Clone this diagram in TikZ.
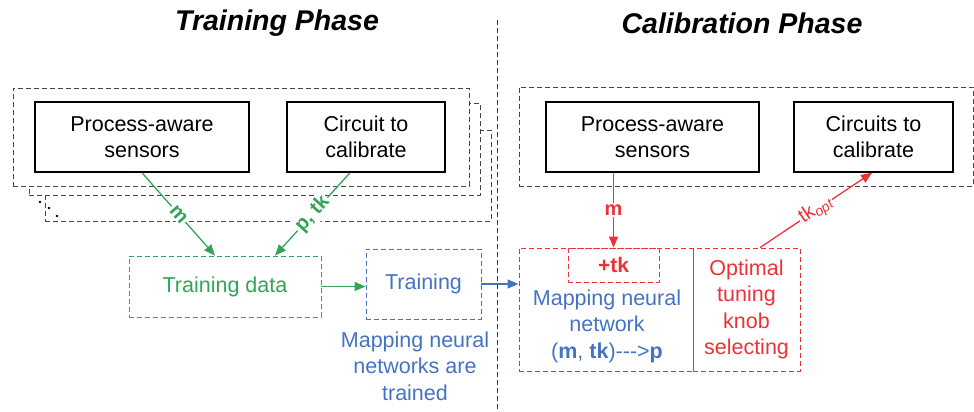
\documentclass[tikz,border=0pt]{standalone}
\usepackage{fontspec}
\setmainfont{Liberation Sans}
\usetikzlibrary{arrows.meta}
\definecolor{cgreen}{RGB}{51,164,87}
\definecolor{cblue}{RGB}{68,114,196}
\definecolor{cred}{RGB}{237,50,55}
\definecolor{cgray}{RGB}{70,70,70}
\begin{document}
\begin{tikzpicture}[x=1pt,y=-1pt,
  body/.style={font=\fontsize{21.5}{26.5}\selectfont, align=center, inner sep=0pt},
  solidbox/.style={body, draw=black, line width=1.5pt, fill=white},
  dbox/.style={dash pattern=on 5pt off 3pt, line width=0.9pt, inner sep=0pt},
  groupbox/.style={dbox, draw=cgray, fill=white},
  title/.style={font=\fontsize{28.5}{32}\selectfont\bfseries\itshape, inner sep=0pt},
  arr/.style={line width=1.3pt, -{Triangle[length=11pt,width=9pt]}},
  lbl/.style={font=\fontsize{20}{22}\selectfont\bfseries, fill=white, inner sep=1.5pt, sloped}
]
\useasboundingbox (0,0) rectangle (974,412);

% phase titles and divider
\node[title] (t1) at (277,23) {Training Phase};
\node[title] (t2) at (742,23) {Calibration Phase};
\coordinate (divtop) at (497,20);
\coordinate (divbot) at (497,412);
\draw[dbox, draw=black!80] (divtop) -- (divbot);

% stacked copies of the training set-up
\node[groupbox, minimum width=446pt, minimum height=91pt] (g3) at (268,175.5) {};
\node[groupbox, minimum width=451pt, minimum height=92pt] (g2) at (254.5,149) {};
\node[groupbox, minimum width=456pt, minimum height=98pt] (g1) at (241,137) {};
\foreach \p in {(40,202),(49,208),(57,216)}
  \fill[black] \p circle (1.4pt);

\node[solidbox, minimum width=214pt, minimum height=70pt] (sensL) at (142,137) {Process-aware\\sensors};
\node[solidbox, minimum width=158pt, minimum height=70pt] (circL) at (366,137) {Circuit to\\calibrate};

% training data and training
\node[body, dbox, draw=cgreen, text=cgreen, minimum width=192pt, minimum height=61pt] (tdata) at (225,286.5) {Training data};
\node[body, dbox, draw=cblue, text=cblue, minimum width=115pt, minimum height=70pt] (train) at (423.5,284) {Training};
\node[body, text=cblue] (trainnote) at (415,366) {Mapping neural\\networks are\\trained};

\draw[arr, cgreen] (sensL.south) -- node[lbl, text=cgreen] {m} ([xshift=-10pt]tdata.north);
\draw[arr, cgreen] ([xshift=-16pt]circL.south) -- node[lbl, text=cgreen] {p, tk} ([xshift=50pt]tdata.north);
\draw[arr, cgreen] (tdata.east) -- (train.west |- tdata.east);

% calibration set-up
\node[groupbox, minimum width=454pt, minimum height=99pt] (gR) at (746,136.5) {};
\node[solidbox, minimum width=213pt, minimum height=70pt] (sensR) at (652.5,137) {Process-aware\\sensors};
\node[solidbox, minimum width=159pt, minimum height=70pt] (circR) at (873.5,137) {Circuits to\\calibrate};

\node[dbox, draw=cred, minimum width=174pt, minimum height=123pt] (map) at (606,309.5) {};
\node[body, dbox, draw=cred, text=cred, minimum width=107pt, minimum height=123pt] (sel) at (746.5,309.5) {Optimal\\tuning\\knob\\selecting};
\node[body, dbox, draw=cred, text=cred, font=\fontsize{21}{26}\selectfont\bfseries, minimum width=91pt, minimum height=34pt] (tk) at (613.5,265) {+tk};
\node[body, text=cblue] (maptxt) at (607,326) {Mapping neural\\network\\(\textbf{m}, \textbf{tk})-{}-{}->\textbf{p}};

\draw[arr, cblue] (train.east) -- (map.west |- train.east);
\draw[arr, cred] (tk.north |- sensR.south) -- node[lbl, text=cred, sloped=false] {m} (tk.north);
\draw[arr, cred] ([xshift=13.5pt]sel.north) -- node[lbl, text=cred, font=\fontsize{20}{22}\selectfont] {tk\textsubscript{\itshape opt}} ([xshift=-1.5pt]circR.south);
\end{tikzpicture}
\end{document}
